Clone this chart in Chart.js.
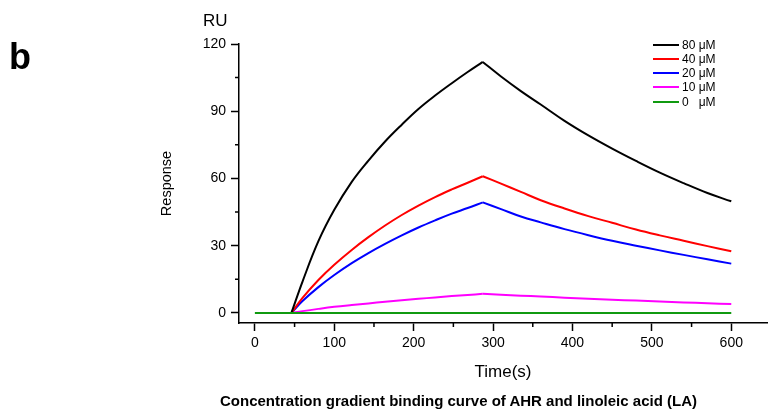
<!DOCTYPE html>
<html>
<head>
<meta charset="utf-8">
<script src="https://cdn.jsdelivr.net/npm/chart.js@4"></script>
<style>
  body { margin: 0; background: #fff; }
  #wrap { position: relative; width: 776px; height: 416px; background: #fff; font-family: "Liberation Sans", Arial, sans-serif; }
  #chart { position: absolute; left: 0; top: 0; }
  .txt { position: absolute; white-space: pre; color: #000; }
  #panel { left: 9px; top: 39px; font-size: 36px; line-height: 36px; font-weight: bold; }
  #unit { left: 203px; top: 12px; font-size: 17px; line-height: 17px; }
  #caption { left: 220px; top: 393px; font-size: 15px; line-height: 15px; font-weight: bold; }
  #legend { position: absolute; left: 653px; top: 37.6px; font-size: 12px; }
  #legend .row { height: 14.25px; display: flex; align-items: center; }
  #legend .ln { width: 26px; height: 2px; margin-right: 3px; }
</style>
</head>
<body>
<div id="wrap">
  <canvas id="chart" width="776" height="416"></canvas>
  <div class="txt" id="panel">b</div>
  <div class="txt" id="unit">RU</div>
  <div class="txt" id="caption">Concentration gradient binding curve of AHR and linoleic acid (LA)</div>
  <div id="legend"></div>
</div>
<script>
// --- Data ---
const riseTime = [46, 60, 80, 100, 122, 143, 164, 185, 206, 227, 248, 268, 287];
const fallTime = [287, 310, 335, 360, 390, 420, 450, 480, 510, 540, 570, 600];

const rise80 = [0, 14, 32, 46, 58.5, 68, 76.5, 84, 91, 97, 102.5, 107.5, 112];
const fall80 = [112, 105.5, 99, 93, 85.7, 79.2, 73.3, 67.8, 62.6, 57.9, 53.5, 49.8];
const rise40 = [0, 6.7, 14.7, 21.5, 28.1, 33.8, 39, 43.7, 47.9, 51.7, 55.1, 58.1, 61];
const fall40 = [61, 57.7, 54, 50.3, 46.6, 43.2, 40.2, 37.2, 34.6, 32.2, 29.8, 27.5];
const rise20 = [0, 5.3, 11.5, 16.9, 22.2, 26.7, 30.8, 34.6, 38.1, 41.3, 44.3, 46.8, 49.3];
const fall20 = [49.3, 46.3, 43, 40.4, 37.4, 34.7, 32.2, 30, 27.9, 25.9, 23.9, 22];
const rise10 = [0, 0.8, 1.8, 2.7, 3.5, 4.2, 5, 5.7, 6.3, 6.9, 7.5, 8.0, 8.5];
const fall10 = [8.5, 8.1, 7.7, 7.3, 6.8, 6.3, 5.9, 5.5, 5.1, 4.7, 4.3, 4.0];
const baseTime = [0, 600];
const base0 = [0, 0];

const seriesLabels = ['80 μM', '40 μM', '20 μM', '10 μM', '0   μM'];
const seriesColors = ['#000000', '#ff0000', '#0000ff', '#ff00ff', '#109a10'];

const xTicks = [0, 100, 200, 300, 400, 500, 600];
const yTicks = [0, 30, 60, 90, 120];

// --- Build datasets ---
function pts(xs, ys) { return xs.map((x, i) => ({ x: x, y: ys[i] })); }
function line(data, color) {
  return {
    data: data, borderColor: color, backgroundColor: color,
    borderWidth: 2, pointRadius: 0, fill: false, tension: 0.4
  };
}

const curves = [
  [rise80, fall80], [rise40, fall40], [rise20, fall20], [rise10, fall10]
];
const datasets = [line(pts(baseTime, base0), seriesColors[4])];
curves.forEach(([r, f], i) => {
  datasets.push(line(pts(riseTime, r), seriesColors[i]));
  datasets.push(line(pts(fallTime, f), seriesColors[i]));
});

// minor ticks between the labelled ones
const minorTicks = {
  id: 'minorTicks',
  afterDraw(chart) {
    const c = chart.ctx, xs = chart.scales.x, ys = chart.scales.y;
    const a = chart.chartArea;
    c.save();
    c.strokeStyle = '#000';
    c.lineWidth = 1.5;
    c.beginPath();
    for (let v = 50; v <= xs.max; v += 100) {
      const px = xs.getPixelForValue(v);
      c.moveTo(px, a.bottom); c.lineTo(px, a.bottom + 4);
    }
    for (let v = 15; v <= ys.max; v += 30) {
      const py = ys.getPixelForValue(v);
      c.moveTo(a.left, py); c.lineTo(a.left - 4, py);
    }
    c.stroke();
    c.restore();
  }
};

const font = { family: '"Liberation Sans", Arial, sans-serif', size: 14 };

new Chart(document.getElementById('chart'), {
  type: 'line',
  data: { datasets: datasets },
  options: {
    responsive: false,
    animation: false,
    devicePixelRatio: 1,
    layout: { padding: { left: 150, top: 44, right: 9, bottom: 33 } },
    plugins: { legend: { display: false }, tooltip: { enabled: false } },
    scales: {
      x: {
        type: 'linear', min: -20, max: 645,
        afterFit(s) { s.height = 60; },
        afterBuildTicks(s) { s.ticks = xTicks.map(v => ({ value: v })); },
        ticks: { includeBounds: false, color: '#000', font: font, padding: 4, maxRotation: 0 },
        grid: { drawOnChartArea: false, drawTicks: true, tickLength: 8, tickColor: '#000', tickWidth: 1.5 },
        border: { display: true, color: '#000', width: 1.5 },
        title: { display: true, text: 'Time(s)', color: '#000', font: { family: font.family, size: 17 }, padding: { top: 0, bottom: 0 } }
      },
      y: {
        type: 'linear', min: -4.5, max: 120,
        afterFit(s) { s.width = 89; },
        afterBuildTicks(s) { s.ticks = yTicks.map(v => ({ value: v })); },
        ticks: { includeBounds: false, color: '#000', font: font, padding: 5 },
        grid: { drawOnChartArea: false, drawTicks: true, tickLength: 8, tickColor: '#000', tickWidth: 1.5 },
        border: { display: true, color: '#000', width: 1.5 },
        title: { display: true, text: 'Response', color: '#000', font: { family: font.family, size: 14.5 }, padding: { top: 8, bottom: 0 } }
      }
    }
  },
  plugins: [minorTicks]
});

// --- Legend ---
const leg = document.getElementById('legend');
seriesLabels.forEach((lab, i) => {
  const row = document.createElement('div');
  row.className = 'row';
  row.innerHTML = `<span class="ln" style="background:${seriesColors[i]}"></span><span style="white-space:pre">${lab}</span>`;
  leg.append(row);
});
</script>
</body>
</html>
